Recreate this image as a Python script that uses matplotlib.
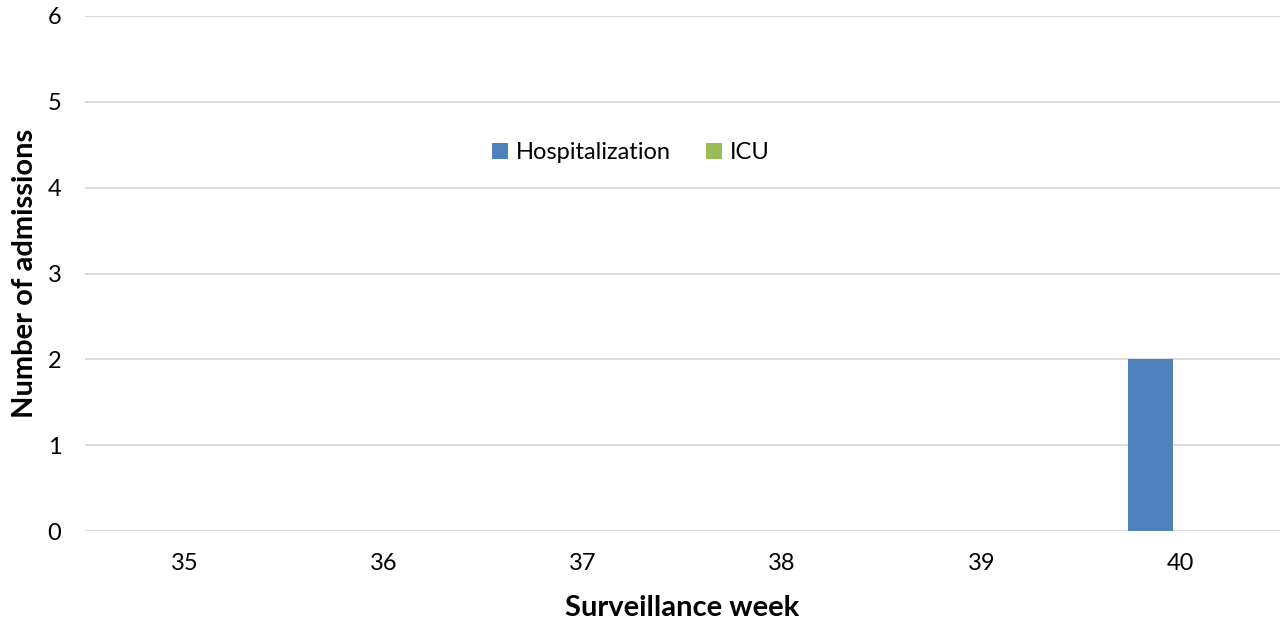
import numpy as np
import matplotlib.pyplot as plt

weeks = ['35', '36', '37', '38', '39', '40']
hospitalization = [0, 0, 0, 0, 0, 2]
icu = [0, 0, 0, 0, 0, 0]

plt.rcParams['font.family'] = ['Lato', 'DejaVu Sans']

fig = plt.figure(figsize=(12.81, 6.26), dpi=100)
ax = fig.add_axes([85 / 1281, (626 - 531) / 626, 1195 / 1281, 515 / 626])

x = np.arange(len(weeks))
w = 0.226
ax.bar(x - 0.15, hospitalization, width=w, color='#4f81bd', label='Hospitalization', zorder=3)
ax.bar(x + 0.15, icu, width=w, color='#9bbb59', label='ICU', zorder=3)

ax.set_xlim(-0.5, len(weeks) - 0.5)
ax.set_ylim(0, 6)
ax.set_yticks(range(0, 7))
ax.set_xticks(x)
ax.set_xticklabels(weeks)
ax.grid(axis='y', color='#d9d9d9', linewidth=1.3, zorder=0)
for s in ax.spines.values():
    s.set_visible(False)
ax.tick_params(length=0, labelsize=17, colors='black')
ax.tick_params(axis='y', pad=17)
ax.tick_params(axis='x', pad=16)

ax.set_ylabel('Number of admissions', fontsize=21, fontweight='bold', labelpad=7)
ax.set_xlabel('Surveillance week', fontsize=21, fontweight='bold', labelpad=15)

ax.legend(loc='center', bbox_to_anchor=(0.457, 0.735), ncol=2, frameon=False,
          fontsize=17, handlelength=0.65, handleheight=0.65, handletextpad=0.35,
          columnspacing=1.5)

fig.savefig('out.png', dpi=100)
